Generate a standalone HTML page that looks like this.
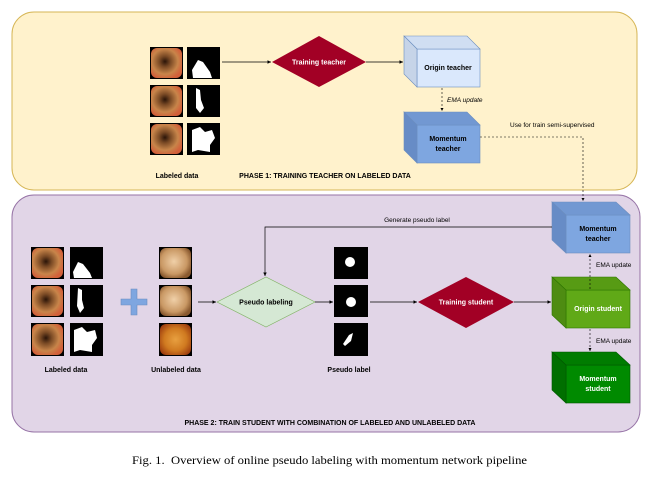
<!DOCTYPE html>
<html><head><meta charset="utf-8"><style>
html,body{margin:0;padding:0;background:#fff;width:657px;height:478px;overflow:hidden}
svg{display:block}
text{font-family:"Liberation Sans",sans-serif}
.b{font-weight:bold;font-size:7px}
.s{font-size:6.5px}
</style></head><body>
<svg width="657" height="478" viewBox="0 0 657 478" xmlns="http://www.w3.org/2000/svg">
<defs>
<radialGradient id="en" cx="45%" cy="45%" r="60%"><stop offset="0" stop-color="#2a1408"/><stop offset="0.3" stop-color="#7a4a25"/><stop offset="0.7" stop-color="#c8854a"/><stop offset="1" stop-color="#d2603a"/></radialGradient>
<radialGradient id="un" cx="45%" cy="45%" r="60%"><stop offset="0" stop-color="#f0d0a8"/><stop offset="0.7" stop-color="#c99864"/><stop offset="1" stop-color="#8a5a30"/></radialGradient>
<radialGradient id="un2" cx="50%" cy="50%" r="60%"><stop offset="0" stop-color="#e8a040"/><stop offset="0.6" stop-color="#d07a20"/><stop offset="1" stop-color="#a04010"/></radialGradient>
<marker id="ar" markerWidth="6" markerHeight="6" refX="5" refY="3" orient="auto"><path d="M0,0.5 L5,3 L0,5.5 Z" fill="#000"/></marker>
</defs>
<rect x="12" y="12" width="625" height="178" rx="22" fill="#fff2cc" stroke="#d6b656" stroke-width="1"/>
<rect x="12" y="195" width="628" height="237" rx="22" fill="#e1d5e7" stroke="#9673a6" stroke-width="1"/>

<g>
<rect x="150" y="47" width="33" height="32" fill="#000"/><rect x="151" y="48" width="31" height="30" rx="6" fill="url(#en)"/>
<rect x="150" y="85" width="33" height="32" fill="#000"/><rect x="151" y="86" width="31" height="30" rx="6" fill="url(#en)"/>
<rect x="150" y="123" width="33" height="32" fill="#000"/><rect x="151" y="124" width="31" height="30" rx="6" fill="url(#en)"/>
<rect x="187" y="47" width="33" height="32" fill="#000"/><path d="M192,70 L198,60 L203,62 L210,72 L212,78 L193,78 Z" fill="#fff"/>
<rect x="187" y="85" width="33" height="32" fill="#000"/><path d="M196,88 L200,90 L201,100 L204,108 L200,113 L196,108 Z" fill="#fff"/>
<rect x="187" y="123" width="33" height="32" fill="#000"/><path d="M192,130 L200,127 L205,132 L212,130 L215,138 L210,145 L210,152 L198,150 L192,152 Z" fill="#fff"/>
</g>
<text x="177" y="178" class="b" text-anchor="middle">Labeled data</text>
<text x="325" y="178" class="b" text-anchor="middle">PHASE 1: TRAINING TEACHER ON LABELED DATA</text>

<line x1="222" y1="62" x2="271" y2="62" stroke="#000" stroke-width="0.7" marker-end="url(#ar)"/>
<polygon points="272,62 319,36 366,62 319,87" fill="#a20025"/>
<text x="319" y="64.5" class="b" fill="#fff" text-anchor="middle">Training teacher</text>
<line x1="366" y1="62" x2="403" y2="62" stroke="#000" stroke-width="0.7" marker-end="url(#ar)"/>

<g stroke="#6c8ebf" stroke-width="0.6">
<rect x="417" y="49" width="63" height="38" fill="#dae8fc"/>
<polygon points="404,36 467,36 480,49 417,49" fill="#d0def2"/>
<polygon points="404,36 417,49 417,87 404,74" fill="#c6d4e8"/>
</g>
<text x="448" y="70" class="b" text-anchor="middle">Origin teacher</text>
<line x1="442" y1="88" x2="442" y2="111" stroke="#000" stroke-width="0.6" stroke-dasharray="2,2" marker-end="url(#ar)"/>
<text x="447" y="102" class="s" font-style="italic">EMA update</text>

<g stroke="#6c8ebf" stroke-width="0.6">
<rect x="417" y="125" width="63" height="38" fill="#7ea6e0"/>
<polygon points="404,112 467,112 480,125 417,125" fill="#7298d2"/>
<polygon points="404,112 417,125 417,163 404,150" fill="#678cc6"/>
</g>
<text x="448" y="141" class="b" text-anchor="middle">Momentum</text>
<text x="448" y="151" class="b" text-anchor="middle">teacher</text>
<text x="510" y="127" class="s">Use for train semi-supervised</text>
<polyline points="480,137 583,137 583,201" fill="none" stroke="#000" stroke-width="0.6" stroke-dasharray="2,2" marker-end="url(#ar)"/>

<g>
<rect x="31" y="247" width="33" height="32" fill="#000"/><rect x="32" y="248" width="31" height="30" rx="6" fill="url(#en)"/>
<rect x="31" y="285" width="33" height="32" fill="#000"/><rect x="32" y="286" width="31" height="30" rx="6" fill="url(#en)"/>
<rect x="31" y="323" width="33" height="33" fill="#000"/><rect x="32" y="324" width="31" height="31" rx="6" fill="url(#en)"/>
<rect x="70" y="247" width="33" height="32" fill="#000"/><path d="M73,272 L78,262 L83,264 L90,273 L92,278 L74,278 Z" fill="#fff"/>
<rect x="70" y="285" width="33" height="32" fill="#000"/><path d="M78,288 L82,290 L82,300 L84,308 L80,313 L77,306 Z" fill="#fff"/>
<rect x="70" y="323" width="33" height="33" fill="#000"/><path d="M74,330 L82,327 L87,332 L95,330 L97,338 L92,345 L92,352 L80,350 L74,352 Z" fill="#fff"/>
</g>
<text x="66" y="372" class="b" text-anchor="middle">Labeled data</text>
<g fill="#7ea6e0" stroke="#6c8ebf" stroke-width="0.6">
<path d="M131,289 h6 v10 h10 v6 h-10 v10 h-6 v-10 h-10 v-6 h10 z"/>
</g>
<rect x="159" y="247" width="33" height="32" fill="#000"/><rect x="160" y="248" width="31" height="30" rx="6" fill="url(#un)"/>
<rect x="159" y="285" width="33" height="32" fill="#000"/><rect x="160" y="286" width="31" height="30" rx="6" fill="url(#un)"/>
<rect x="159" y="323" width="33" height="33" fill="#000"/><rect x="160" y="324" width="31" height="31" rx="6" fill="url(#un2)"/>
<text x="176" y="372" class="b" text-anchor="middle">Unlabeled data</text>

<line x1="198" y1="302" x2="216" y2="302" stroke="#000" stroke-width="0.7" marker-end="url(#ar)"/>
<polygon points="217,302 266,277 315,302 266,327" fill="#d5e8d4" stroke="#82b366" stroke-width="0.7"/>
<text x="266" y="304.5" class="b" text-anchor="middle">Pseudo labeling</text>
<line x1="315" y1="302" x2="333" y2="302" stroke="#000" stroke-width="0.7" marker-end="url(#ar)"/>

<rect x="334" y="247" width="34" height="32" fill="#000"/><circle cx="350" cy="262" r="5" fill="#fff"/>
<rect x="334" y="285" width="34" height="32" fill="#000"/><circle cx="351" cy="302" r="5" fill="#fff"/>
<rect x="334" y="323" width="34" height="33" fill="#000"/><path d="M343,344 L349,335 L353,333 L351,341 L345,346 Z" fill="#fff"/>
<text x="349" y="372" class="b" text-anchor="middle">Pseudo label</text>

<line x1="370" y1="302" x2="417" y2="302" stroke="#000" stroke-width="0.7" marker-end="url(#ar)"/>
<polygon points="418,302 466,277 514,302 466,328" fill="#a20025"/>
<text x="466" y="304.5" class="b" fill="#fff" text-anchor="middle">Training student</text>
<line x1="514" y1="302" x2="551" y2="302" stroke="#000" stroke-width="0.7" marker-end="url(#ar)"/>

<g stroke="#6c8ebf" stroke-width="0.6">
<rect x="566" y="215" width="64" height="38" fill="#7ea6e0"/>
<polygon points="552,202 616,202 630,215 566,215" fill="#7298d2"/>
<polygon points="552,202 566,215 566,253 552,240" fill="#678cc6"/>
</g>
<text x="598" y="231" class="b" text-anchor="middle">Momentum</text>
<text x="598" y="241" class="b" text-anchor="middle">teacher</text>
<polyline points="552,227 265,227 265,276" fill="none" stroke="#000" stroke-width="0.7" marker-end="url(#ar)"/>
<text x="417" y="222" class="s" text-anchor="middle">Generate pseudo label</text>

<g stroke="#2d7600" stroke-width="0.6">
<rect x="566" y="290" width="64" height="38" fill="#60a917"/>
<polygon points="552,277 616,277 630,290 566,290" fill="#579b14"/>
<polygon points="552,277 566,290 566,328 552,315" fill="#4e8c12"/>
</g>
<text x="598" y="311" class="b" fill="#fff" text-anchor="middle">Origin student</text>
<line x1="590" y1="289" x2="590" y2="254" stroke="#000" stroke-width="0.6" stroke-dasharray="2,2" marker-end="url(#ar)"/>
<text x="596" y="267" class="s">EMA update</text>
<line x1="590" y1="329" x2="590" y2="351" stroke="#000" stroke-width="0.6" stroke-dasharray="2,2" marker-end="url(#ar)"/>
<text x="596" y="343" class="s">EMA update</text>

<g stroke="#005700" stroke-width="0.6">
<rect x="566" y="365" width="64" height="38" fill="#008a00"/>
<polygon points="552,352 616,352 630,365 566,365" fill="#007c00"/>
<polygon points="552,352 566,365 566,403 552,390" fill="#006f00"/>
</g>
<text x="598" y="381" class="b" fill="#fff" text-anchor="middle">Momentum</text>
<text x="598" y="391" class="b" fill="#fff" text-anchor="middle">student</text>

<text x="330" y="425" class="b" text-anchor="middle">PHASE 2: TRAIN STUDENT WITH COMBINATION OF LABELED AND UNLABELED DATA</text>

<text x="132" y="464" font-size="12" style="font-family:'Liberation Serif',serif" textLength="395" lengthAdjust="spacingAndGlyphs" xml:space="preserve">Fig. 1.  Overview of online pseudo labeling with momentum network pipeline</text>
</svg>
</body></html>
